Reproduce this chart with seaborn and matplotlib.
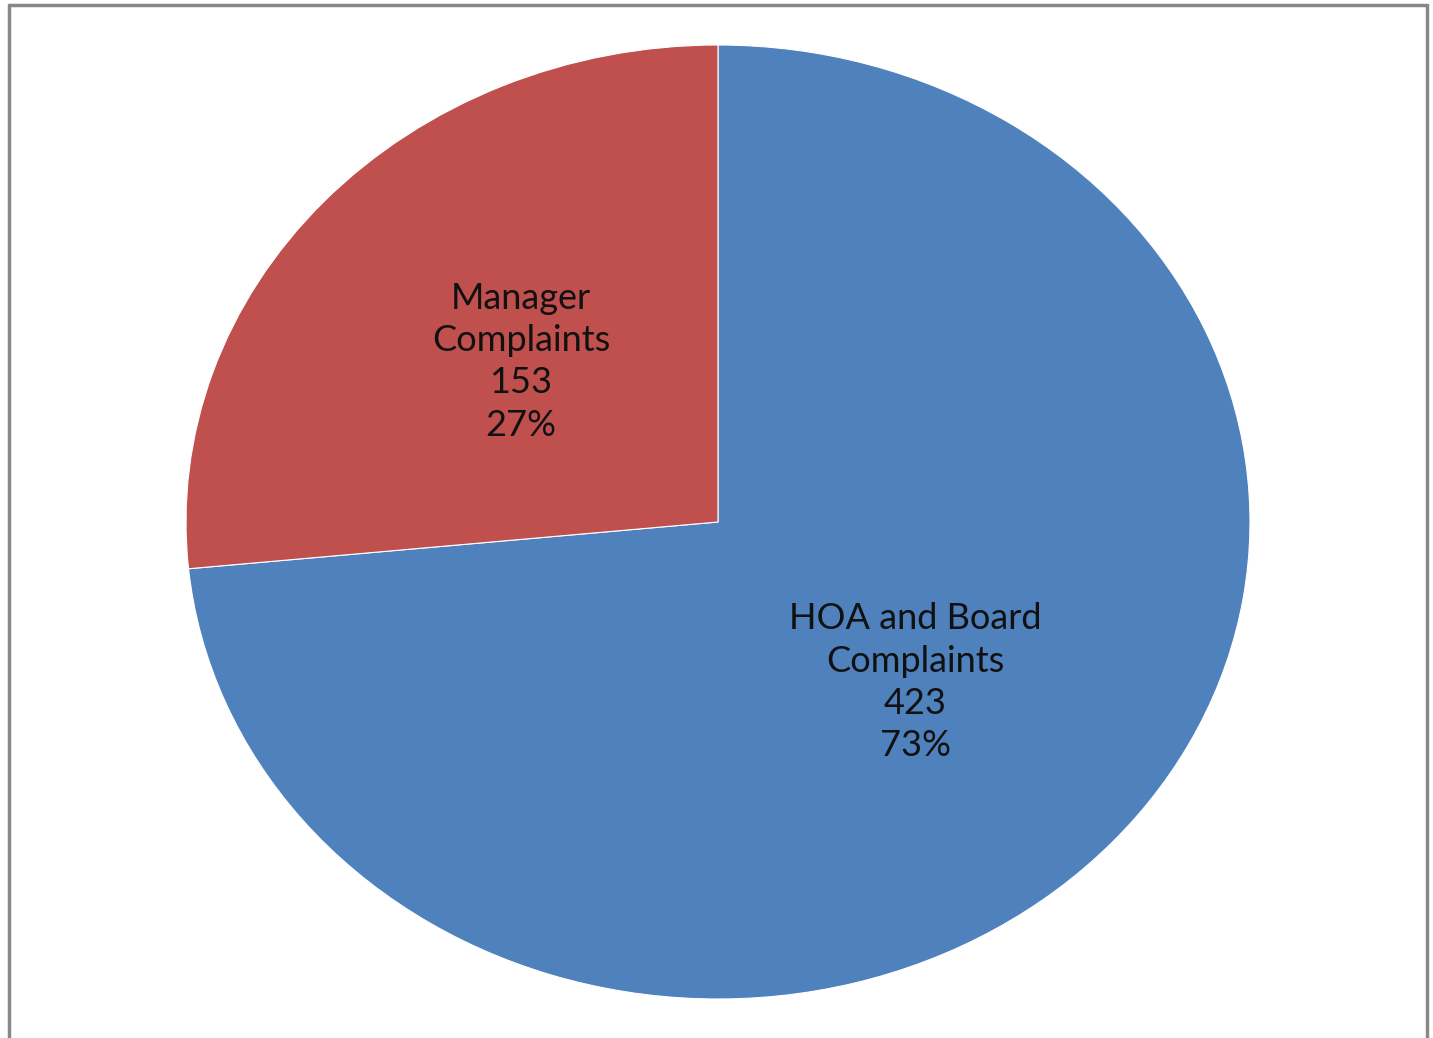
import matplotlib.pyplot as plt
import seaborn as sns
from matplotlib.lines import Line2D

# Complaint counts
categories = ['HOA and Board\nComplaints', 'Manager\nComplaints']
counts = [423, 153]
colors = ['#4F81BD', '#C0504D']

sns.set_theme(style='white')
plt.rcParams['font.family'] = ['Lato', 'DejaVu Sans']

fig = plt.figure(figsize=(14.33, 10.38), dpi=100)
ax = fig.add_axes([186 / 1433, 39 / 1038, 1064 / 1433, 954 / 1038])

total = sum(counts)


def make_label(pct):
    # find the slice matching this percentage
    val = int(round(pct * total / 100))
    idx = counts.index(val)
    return f'{categories[idx]}\n{val}\n{pct:.0f}%'


wedges, texts, autotexts = ax.pie(
    counts, colors=colors, startangle=90, counterclock=False,
    autopct=make_label, pctdistance=0.5,
    wedgeprops=dict(edgecolor='white', linewidth=0.8),
    textprops=dict(fontsize=26, color='#111111', linespacing=1.34))

ax.set_aspect('auto')
ax.set_xlim(-1, 1)
ax.set_ylim(-1, 1)
ax.axis('off')

# chart frame (open at the bottom)
frame = dict(color='#888888', linewidth=2.5, transform=fig.transFigure)
fig.add_artist(Line2D([9 / 1433, 9 / 1433], [0, 1 - 5 / 1038], **frame))
fig.add_artist(Line2D([9 / 1433, 1427 / 1433], [1 - 5 / 1038, 1 - 5 / 1038], **frame))
fig.add_artist(Line2D([1427 / 1433, 1427 / 1433], [0, 1 - 5 / 1038], **frame))

fig.savefig('out.png', dpi=100)
